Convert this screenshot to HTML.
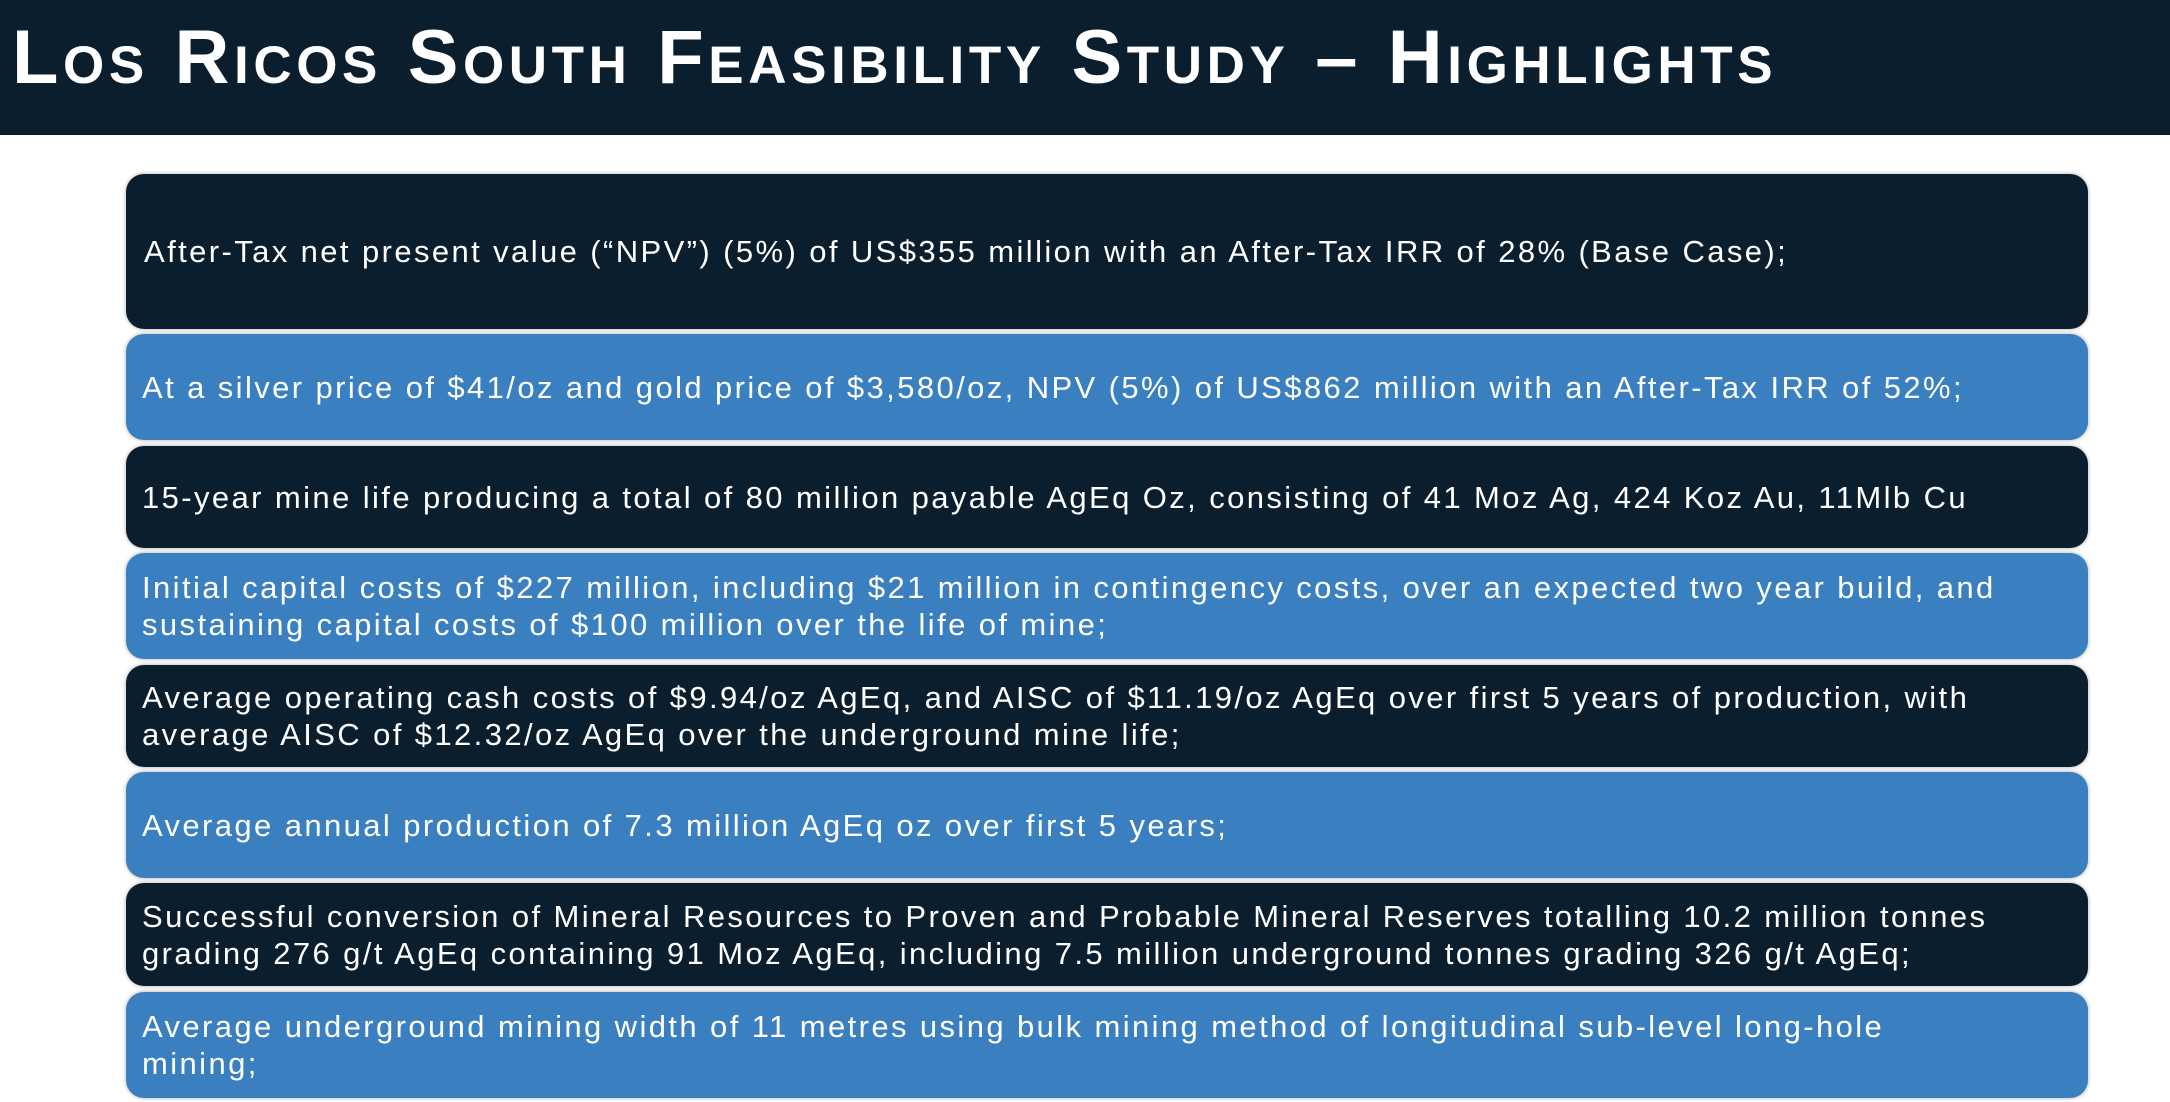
<!DOCTYPE html>
<html><head><meta charset="utf-8"><style>
html,body{margin:0;padding:0;}
body{width:2170px;height:1102px;background:#fff;position:relative;overflow:hidden;font-family:"Liberation Sans",sans-serif;}
.hdr{position:absolute;left:0;top:0;width:2170px;height:135px;background:#0a1e2e;}
.title{position:absolute;left:12px;top:14px;color:#fff;font-weight:bold;font-size:76px;font-variant:small-caps;white-space:nowrap;letter-spacing:4.6px;}
.b{position:absolute;left:126px;width:1962px;border-radius:18px;color:#fff;font-size:31px;line-height:37px;letter-spacing:2.4px;box-sizing:border-box;padding:0 20px 0 16px;display:flex;align-items:center;box-shadow:0 0 3px 1px #c8c8c8;}
.d{background:#0a1e2e;}
.l{background:#3a7fbf;}
</style></head><body>
<div class="hdr"><div class="title">Los Ricos South Feasibility Study – Highlights</div></div>
<div class="b d" style="top:174px;height:155px;padding-left:18px">After-Tax net present value (“NPV”) (5%) of US$355 million with an After-Tax IRR of 28% (Base Case);</div>
<div class="b l" style="top:334px;height:106px;">At a silver price of $41/oz and gold price of $3,580/oz, NPV (5%) of US$862 million with an After-Tax IRR of 52%;</div>
<div class="b d" style="top:446px;height:102px;">15-year mine life producing a total of 80 million payable AgEq Oz, consisting of 41 Moz Ag, 424 Koz Au, 11Mlb Cu</div>
<div class="b l" style="top:553px;height:106px;">Initial capital costs of $227 million, including $21 million in contingency costs, over an expected two year build, and sustaining capital costs of $100 million over the life of mine;</div>
<div class="b d" style="top:665px;height:102px;">Average operating cash costs of $9.94/oz AgEq, and AISC of $11.19/oz AgEq over first 5 years of production, with average AISC of $12.32/oz AgEq over the underground mine life;</div>
<div class="b l" style="top:772px;height:106px;">Average annual production of 7.3 million AgEq oz over first 5 years;</div>
<div class="b d" style="top:883px;height:103px;">Successful conversion of Mineral Resources to Proven and Probable Mineral Reserves totalling 10.2 million tonnes grading 276 g/t AgEq containing 91 Moz AgEq, including 7.5 million underground tonnes grading 326 g/t AgEq;</div>
<div class="b l" style="top:992px;height:106px;"><span>Average underground mining width of 11 metres using bulk mining method of longitudinal sub-level long-hole<br>mining;</span></div>
</body></html>
